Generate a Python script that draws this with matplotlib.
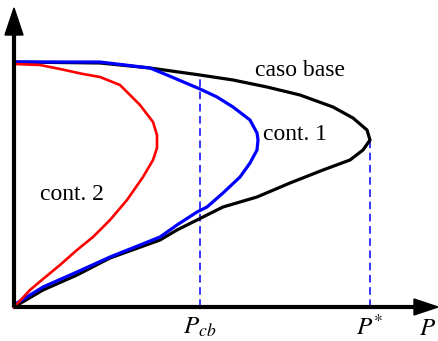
import numpy as np
import matplotlib.pyplot as plt

plt.rcParams['font.family'] = ['Liberation Serif', 'DejaVu Serif']
plt.rcParams['mathtext.fontset'] = 'stix'

# curves (P, V)
base_P = [0, 29, 63, 96, 146, 163, 183, 209, 243, 276, 309, 336, 349, 356, 353, 339, 319, 286, 253, 219, 186, 136, 86, 0]
base_V = [0, 17, 32, 49, 67, 77, 87, 100, 110, 124, 137, 147, 157, 167, 177, 189, 200, 212, 220, 227, 232, 239, 244, 245]

cont1_P = [0, 3, 29, 63, 96, 146, 163, 183, 193, 209, 226, 236, 243, 244, 243, 236, 219, 203, 186, 153, 136, 86, 0]
cont1_V = [0, 4, 20, 35, 50, 70, 82, 95, 100, 114, 130, 144, 157, 167, 174, 187, 200, 210, 218, 232, 239, 245, 245]

cont2_P = [0, 3, 16, 29, 46, 63, 79, 96, 113, 129, 139, 143, 143, 139, 126, 106, 86, 69, 46, 26, 0]
cont2_V = [0, 3, 17, 28, 42, 57, 70, 87, 107, 130, 147, 159, 172, 185, 202, 222, 230, 233, 238, 242, 243]

P_cb = 186
P_star = 356
V_cb = 232
V_star = 167

fig = plt.figure(figsize=(4.38, 3.41), dpi=100)
ax = fig.add_axes([0, 0, 1, 1])
ax.set_xlim(-14, 424)
ax.set_ylim(-34, 307)
ax.axis('off')

# dashed markers
ax.plot([P_cb, P_cb], [0, V_cb], color='blue', linestyle=(0, (5, 3)), linewidth=1.1)
ax.plot([P_star, P_star], [0, V_star], color='blue', linestyle=(0, (5, 3)), linewidth=1.1)

ax.plot(base_P, base_V, color='black', linewidth=2.3, solid_joinstyle='round')
ax.plot(cont1_P, cont1_V, color='blue', linewidth=2.3, solid_joinstyle='round')
ax.plot(cont2_P, cont2_V, color='red', linewidth=1.9, solid_joinstyle='round')

# axes arrows
ax.plot([0, 0], [0, 275], color='black', linewidth=3, solid_capstyle='butt')
ax.plot([0, 404], [0, 0], color='black', linewidth=3, solid_capstyle='butt')
ax.fill([-9, 9, 0], [272, 272, 299], color='black')
ax.fill([400, 400, 424], [-8, 8, 0], color='black')

ax.text(286, 237, 'caso base', fontsize=17, ha='center', va='center')
ax.text(281, 172, 'cont. 1', fontsize=17, ha='center', va='center')
ax.text(58, 113, 'cont. 2', fontsize=17, ha='center', va='center')
ax.text(P_cb, -20, '$P_{cb}$', fontsize=18, ha='center', va='center')
ax.text(P_star, -20, '$P^{*}$', fontsize=18, ha='center', va='center')
ax.text(414, -22, '$P$', fontsize=18, ha='center', va='center')

fig.savefig('out.png', dpi=100)
